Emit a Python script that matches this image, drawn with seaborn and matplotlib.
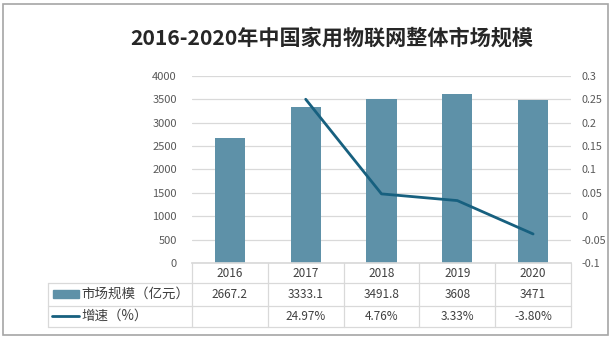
import numpy as np
import pandas as pd
import matplotlib
matplotlib.use("Agg")
import matplotlib.pyplot as plt
import seaborn as sns
from matplotlib.patches import Rectangle
from matplotlib.lines import Line2D

years = ["2016", "2017", "2018", "2019", "2020"]
market_size = [2667.2, 3333.1, 3491.8, 3608, 3471]
growth = [np.nan, 0.2497, 0.0476, 0.0333, -0.038]
size_labels = ["2667.2", "3333.1", "3491.8", "3608", "3471"]
growth_labels = ["", "24.97%", "4.76%", "3.33%", "-3.80%"]
left_ticks = [0, 500, 1000, 1500, 2000, 2500, 3000, 3500, 4000]
right_ticks = [-0.1, -0.05, 0, 0.05, 0.1, 0.15, 0.2, 0.25, 0.3]
right_tick_labels = ["-0.1", "-0.05", "0", "0.05", "0.1", "0.15", "0.2", "0.25", "0.3"]
title = "2016-2020年中国家用物联网整体市场规模"
series_names = ["市场规模（亿元）", "增速（%）"]

sns.set_theme(style="white")
plt.rcParams['font.family'] = ['Noto Sans CJK SC', 'DejaVu Sans']

W, H = 614, 339
fig = plt.figure(figsize=(W / 100, H / 100), dpi=100)
x0, x1, ytop, ybot = 192, 571, 75.7, 263
ax = fig.add_axes([x0 / W, 1 - ybot / H, (x1 - x0) / W, (ybot - ytop) / H])

bar_color = "#5e91a8"
line_color = "#17607f"
grid_color = "#d9d9d9"
text_color = "#404040"
tick_color = "#595959"

df = pd.DataFrame({"year": years, "size": market_size})
sns.barplot(data=df, x="year", y="size", ax=ax, color=bar_color, width=0.4,
            saturation=1, edgecolor="none")
ax.set_xlim(-0.5, 4.5)
ax.set_ylim(0, 4000)
ax.set_yticks(left_ticks)
ax.set_yticklabels([str(t) for t in left_ticks])
ax.yaxis.grid(True, color=grid_color, linewidth=0.9)
ax.set_axisbelow(True)
ax.set_xlabel("")
ax.set_ylabel("")
ax.set_xticks([])
for s in ["left", "right", "top"]:
    ax.spines[s].set_visible(False)
ax.spines["bottom"].set_color(grid_color)
ax.tick_params(axis="y", length=0, pad=11, labelsize=8, labelcolor=tick_color)

ax2 = ax.twinx()
sns.lineplot(x=np.arange(len(years)), y=growth, ax=ax2, color=line_color, linewidth=2.0)
ax2.set_ylim(-0.1, 0.3)
ax2.set_yticks(right_ticks)
ax2.set_yticklabels(right_tick_labels)
ax2.tick_params(axis="y", length=0, pad=7.5, labelsize=7.8, labelcolor=tick_color)
for s in ["left", "right", "top", "bottom"]:
    ax2.spines[s].set_visible(False)
ax2.grid(False)

# Data table below the plot
trans = ax.get_xaxis_transform()
h_ax = ybot - ytop
def ay(py):
    return -(py - ybot) / h_ax

rows_y = [ay(283.3), ay(305.5), ay(327.3)]
left_fig_x = 48
inv = ax.transData.inverted()
left_data = inv.transform(fig.transFigure.transform((left_fig_x / W, 0)))[0]

for yv in rows_y:
    ax.add_line(Line2D([left_data, 4.5], [yv, yv], transform=trans, color=grid_color,
                       linewidth=0.9, clip_on=False))
for xv in [-0.5, 0.5, 1.5, 2.5, 3.5, 4.5]:
    ax.add_line(Line2D([xv, xv], [0, rows_y[2]], transform=trans, color=grid_color,
                       linewidth=0.9, clip_on=False))
ax.add_line(Line2D([left_data, left_data], [rows_y[0], rows_y[2]], transform=trans,
                   color=grid_color, linewidth=0.9, clip_on=False))

mid0 = (0 + rows_y[0]) / 2
mid1 = (rows_y[0] + rows_y[1]) / 2
mid2 = (rows_y[1] + rows_y[2]) / 2
for i, yr in enumerate(years):
    ax.text(i, mid0, yr, transform=trans, ha="center", va="center", fontsize=8.5,
            color=text_color)
    ax.text(i, mid1, size_labels[i], transform=trans, ha="center", va="center",
            fontsize=8.5, color=text_color)
    ax.text(i, mid2, growth_labels[i], transform=trans, ha="center", va="center",
            fontsize=8.5, color=text_color)

# legend keys in table
fig.patches.append(Rectangle((53 / W, 1 - 298 / H), 26 / W, 8 / H,
                             transform=fig.transFigure, color=bar_color))
fig.lines.append(Line2D([52 / W, 79 / W], [1 - 315.5 / H, 1 - 315.5 / H],
                        transform=fig.transFigure, color=line_color, linewidth=2.0))
fig.text(81 / W, 1 - 294 / H, series_names[0], ha="left", va="center", fontsize=9.7,
         color=text_color)
fig.text(81 / W, 1 - 316 / H, series_names[1], ha="left", va="center", fontsize=9.7,
         color=text_color)

fig.text(332 / W, 1 - 38 / H, title, ha="center", va="center", fontsize=15.2,
         fontweight="bold", color="#262626")

# outer border
fig.patches.append(Rectangle((3 / W, 1 - 335 / H), 605 / W, 331 / H,
                             transform=fig.transFigure, fill=False,
                             edgecolor="#a6a6a6", linewidth=1.2))

fig.savefig("out.png", dpi=100)
